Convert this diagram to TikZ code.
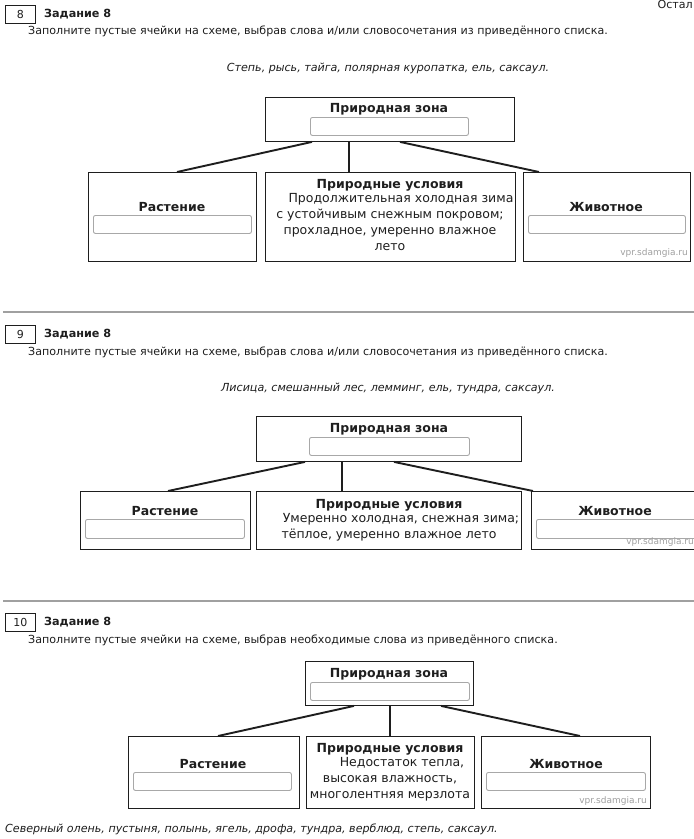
\documentclass[tikz,border=0pt]{standalone}
\usepackage{fontspec}
\setmainfont{DejaVu Sans}
\definecolor{sep}{HTML}{A0A0A0}
\definecolor{fld}{HTML}{A8A8A8}
\definecolor{wm}{HTML}{A0A0A0}
\definecolor{ink}{HTML}{1E1E1E}
\tikzset{
  box/.style={draw=ink, line width=0.9pt, inner sep=0pt, anchor=north west},
  field/.style={draw=fld, line width=0.9pt, rounded corners=2pt, inner sep=0pt, anchor=north west},
  numbox/.style={draw=ink, line width=0.8pt, inner sep=0pt, anchor=north west, minimum width=30pt, minimum height=18pt},
  link/.style={draw=ink, line width=1.9pt},
  ttl/.style={font=\fontsize{12.5}{15}\selectfont\bfseries, text=ink, inner sep=0pt},
  body/.style={font=\fontsize{12.5}{16}\selectfont, text=ink, inner sep=0pt, align=center},
  instr/.style={font=\fontsize{11.1}{13}\selectfont, text=ink, inner sep=0pt, anchor=west},
  lst/.style={font=\fontsize{11.1}{13}\selectfont\itshape, text=ink, inner sep=0pt},
  head/.style={font=\fontsize{11.2}{13}\selectfont\bfseries, text=ink, inner sep=0pt, anchor=west},
  num/.style={font=\fontsize{11}{13}\selectfont, text=ink, inner sep=0pt},
  wmk/.style={font=\fontsize{9}{10}\selectfont, text=wm, inner sep=0pt, anchor=south east},
  rule/.style={draw=sep, line width=2pt}
}
\begin{document}
\begin{tikzpicture}[x=1pt,y=-1pt]
\useasboundingbox (0,0) rectangle (694,839);
\fill[white] (0,0) rectangle (694,839);

% ---------- Section 1 ----------
\node[instr, anchor=east] (rest) at (693,4) {Остал};
\node[numbox] (n1) at (5,5) {};
\node[num] (n1t) at (n1.center) {8};
\node[head] (h1) at (44,14) {Задание 8};
\node[instr] (i1) at (28,31) {Заполните пустые ячейки на схеме, выбрав слова и/или словосочетания из приведённого списка.};
\node[lst] (l1) at (388,68) {Степь, рысь, тайга, полярная куропатка, ель, саксаул.};

\node[box, minimum width=249pt, minimum height=44pt] (top1) at (265,97) {};
\node[ttl] (top1t) at (389,109) {Природная зона};
\node[field, minimum width=158pt, minimum height=18pt] (top1f) at (310,117) {};

\node[box, minimum width=168pt, minimum height=89pt] (lb1) at (88,172) {};
\node[ttl] (lb1t) at (172,207) {Растение};
\node[field, minimum width=158pt, minimum height=18pt] (lb1f) at (93,215) {};

\node[box, minimum width=250pt, minimum height=89pt] (mb1) at (265,172) {};
\node[ttl] (mb1t) at (390,185) {Природные условия};
\node[body, anchor=north] (mb1b) at (390,193) {\hspace*{22pt}Продолжительная холодная зима\\с устойчивым снежным покровом;\\прохладное, умеренно влажное\\лето};

\node[box, minimum width=167pt, minimum height=89pt] (rb1) at (523,172) {};
\node[ttl] (rb1t) at (606,207) {Животное};
\node[field, minimum width=157pt, minimum height=18pt] (rb1f) at (528,215) {};
\node[wmk] (w1) at (688,258) {vpr.sdamgia.ru};

\draw[link] ([xshift=47pt]top1.south west) -- ([xshift=89pt]lb1.north west);
\draw[link] ([xshift=84pt]top1.south west) -- ([xshift=84pt]mb1.north west);
\draw[link] ([xshift=135pt]top1.south west) -- ([xshift=16pt]rb1.north west);

\coordinate (s1a) at (3,312);
\coordinate (s1b) at (694,312);
\draw[rule] (s1a) -- (s1b);

% ---------- Section 2 ----------
\node[numbox] (n2) at (5,325) {};
\node[num] (n2t) at (n2.center) {9};
\node[head] (h2) at (44,334) {Задание 8};
\node[instr] (i2) at (28,352) {Заполните пустые ячейки на схеме, выбрав слова и/или словосочетания из приведённого списка.};
\node[lst] (l2) at (388,388) {Лисица, смешанный лес, лемминг, ель, тундра, саксаул.};

\node[box, minimum width=265pt, minimum height=45pt] (top2) at (256,416) {};
\node[ttl] (top2t) at (389,429) {Природная зона};
\node[field, minimum width=160pt, minimum height=18pt] (top2f) at (309,437) {};

\node[box, minimum width=170pt, minimum height=58pt] (lb2) at (80,491) {};
\node[ttl] (lb2t) at (165,511) {Растение};
\node[field, minimum width=159pt, minimum height=19pt] (lb2f) at (85,519) {};

\node[box, minimum width=265pt, minimum height=58pt] (mb2) at (256,491) {};
\node[ttl] (mb2t) at (389,505) {Природные условия};
\node[body, anchor=north] (mb2b) at (389,513) {\hspace*{24pt}Умеренно холодная, снежная зима;\\тёплое, умеренно влажное лето};

\node[box, minimum width=170pt, minimum height=58pt] (rb2) at (531,491) {};
\node[ttl] (rb2t) at (615,511) {Животное};
\node[field, minimum width=162pt, minimum height=19pt] (rb2f) at (536,519) {};
\node[wmk] (w2) at (694,547) {vpr.sdamgia.ru};

\draw[link] ([xshift=49pt]top2.south west) -- ([xshift=88pt]lb2.north west);
\draw[link] ([xshift=86pt]top2.south west) -- ([xshift=86pt]mb2.north west);
\draw[link] ([xshift=138pt]top2.south west) -- ([xshift=2pt]rb2.north west);

\coordinate (s2a) at (3,601);
\coordinate (s2b) at (694,601);
\draw[rule] (s2a) -- (s2b);

% ---------- Section 3 ----------
\node[numbox] (n3) at (5,613) {};
\node[num] (n3t) at (n3.center) {10};
\node[head] (h3) at (44,622) {Задание 8};
\node[instr] (i3) at (28,640) {Заполните пустые ячейки на схеме, выбрав необходимые слова из приведённого списка.};

\node[box, minimum width=168pt, minimum height=44pt] (top3) at (305,661) {};
\node[ttl] (top3t) at (389,674) {Природная зона};
\node[field, minimum width=159pt, minimum height=18pt] (top3f) at (310,682) {};

\node[box, minimum width=171pt, minimum height=72pt] (lb3) at (128,736) {};
\node[ttl] (lb3t) at (213,764) {Растение};
\node[field, minimum width=158pt, minimum height=18pt] (lb3f) at (133,772) {};

\node[box, minimum width=168pt, minimum height=72pt] (mb3) at (306,736) {};
\node[ttl] (mb3t) at (390,749) {Природные условия};
\node[body, anchor=north] (mb3b) at (390,757) {\hspace*{24pt}Недостаток тепла,\\высокая влажность,\\многолентняя мерзлота};

\node[box, minimum width=169pt, minimum height=72pt] (rb3) at (481,736) {};
\node[ttl] (rb3t) at (566,764) {Животное};
\node[field, minimum width=159pt, minimum height=18pt] (rb3f) at (486,772) {};
\node[wmk] (w3) at (647,806) {vpr.sdamgia.ru};

\draw[link] ([xshift=49pt]top3.south west) -- ([xshift=90pt]lb3.north west);
\draw[link] ([xshift=85pt]top3.south west) -- ([xshift=84pt]mb3.north west);
\draw[link] ([xshift=136pt]top3.south west) -- ([xshift=99pt]rb3.north west);

\node[lst, anchor=west] (l3) at (5,829) {Северный олень, пустыня, полынь, ягель, дрофа, тундра, верблюд, степь, саксаул.};
\end{tikzpicture}
\end{document}
